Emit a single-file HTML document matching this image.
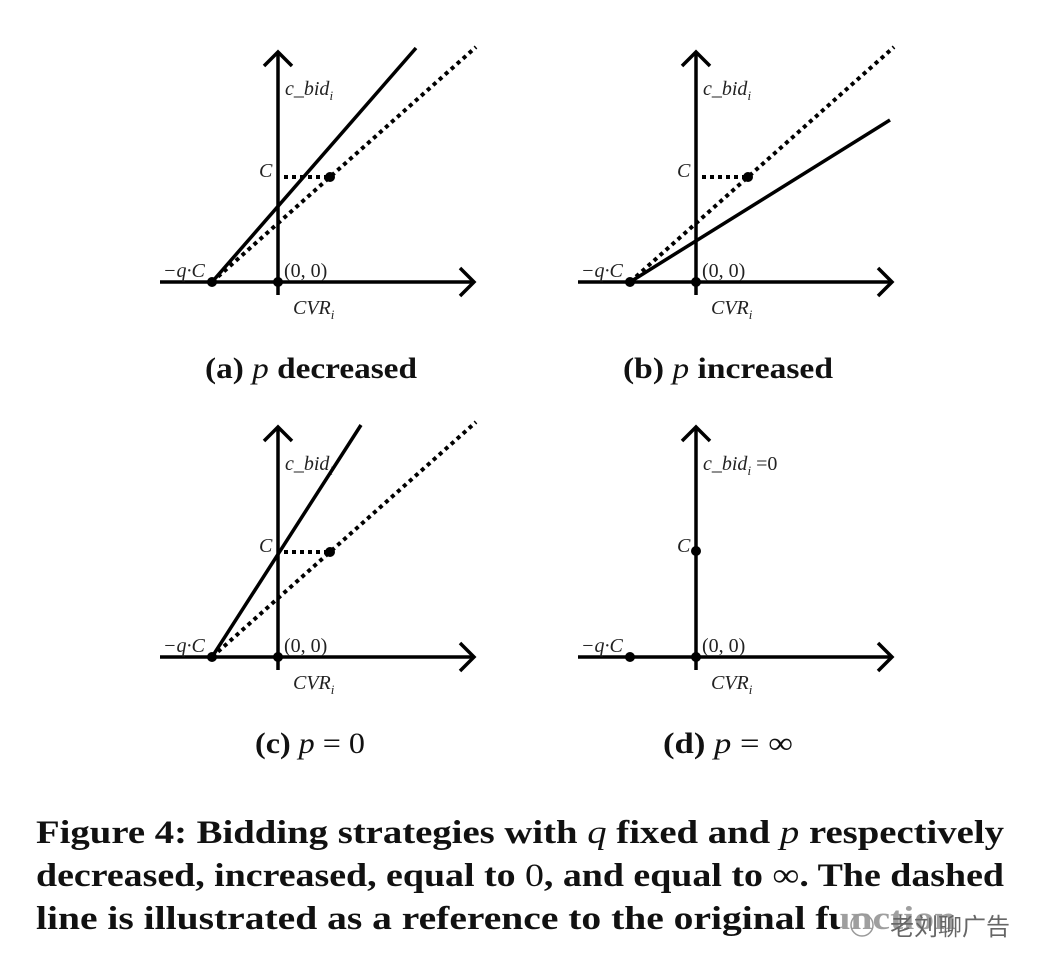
<!DOCTYPE html>
<html><head><meta charset="utf-8"><style>
body{margin:0;background:#fff;}
svg{display:block}
.l{font-family:"Liberation Serif",serif;font-style:italic;font-size:20px;fill:#222}
.n{font-family:"Liberation Serif",serif;font-size:20px;fill:#222}
.cap{font-family:"Liberation Serif",serif;font-weight:bold;font-size:30px;fill:#111}
.fig{font-family:"Liberation Serif",serif;font-weight:bold;font-size:33px;fill:#111}
</style></head><body>
<svg width="1038" height="970" xmlns="http://www.w3.org/2000/svg">
<defs>
<g id="axes" stroke="#000" stroke-width="3.5" fill="none">
<line x1="160" y1="282" x2="474" y2="282"/>
<polyline points="460,268 474,282 460,296"/>
<line x1="278" y1="295" x2="278" y2="52"/>
<polyline points="264,66 278,52 292,66"/>
</g>
<g id="lbl">
<text class="l" x="163" y="277">−q·C</text>
<text class="n" x="284" y="277">(0, 0)</text>
<text class="l" x="293" y="314">CVR<tspan font-size="13" dy="5">i</tspan></text>
<circle cx="212" cy="282" r="5"/><circle cx="278" cy="282" r="5"/>
</g>
</defs>
<!-- a -->
<use href="#axes"/><use href="#lbl"/>
<text class="l" x="285" y="95">c_bid<tspan font-size="13" dy="5">i</tspan></text>
<text class="l" x="259" y="177">C</text>
<line x1="212" y1="282" x2="416" y2="48" stroke="#000" stroke-width="3.5"/>
<line x1="212" y1="282" x2="476" y2="47" stroke="#000" stroke-width="4" stroke-dasharray="4,4"/>
<line x1="284" y1="177" x2="330" y2="177" stroke="#000" stroke-width="4" stroke-dasharray="4,4"/>
<circle cx="330" cy="177" r="5"/>
<!-- b -->
<g transform="translate(418,0)">
<use href="#axes"/><use href="#lbl"/>
<text class="l" x="285" y="95">c_bid<tspan font-size="13" dy="5">i</tspan></text>
<text class="l" x="259" y="177">C</text>
<line x1="212" y1="282" x2="472" y2="120" stroke="#000" stroke-width="3.5"/>
<line x1="212" y1="282" x2="476" y2="47" stroke="#000" stroke-width="4" stroke-dasharray="4,4"/>
<line x1="284" y1="177" x2="330" y2="177" stroke="#000" stroke-width="4" stroke-dasharray="4,4"/>
<circle cx="330" cy="177" r="5"/>
</g>
<!-- c -->
<g transform="translate(0,375)">
<use href="#axes"/><use href="#lbl"/>
<text class="l" x="285" y="95">c_bid<tspan font-size="13" dy="5">i</tspan></text>
<text class="l" x="259" y="177">C</text>
<line x1="212" y1="282" x2="361" y2="50" stroke="#000" stroke-width="3.5"/>
<line x1="212" y1="282" x2="476" y2="47" stroke="#000" stroke-width="4" stroke-dasharray="4,4"/>
<line x1="284" y1="177" x2="330" y2="177" stroke="#000" stroke-width="4" stroke-dasharray="4,4"/>
<circle cx="330" cy="177" r="5"/>
</g>
<!-- d -->
<g transform="translate(418,375)">
<use href="#axes"/><use href="#lbl"/>
<text class="l" x="285" y="95">c_bid<tspan font-size="13" dy="5">i</tspan> <tspan dy="-5" font-style="normal">=0</tspan></text>
<text class="l" x="259" y="177">C</text>
<circle cx="278" cy="176" r="5"/>
</g>
<text class="cap" x="205" y="378" textLength="212" lengthAdjust="spacingAndGlyphs">(a) <tspan font-style="italic" font-weight="normal">p</tspan> decreased</text>
<text class="cap" x="623" y="378" textLength="210" lengthAdjust="spacingAndGlyphs">(b) <tspan font-style="italic" font-weight="normal">p</tspan> increased</text>
<text class="cap" x="255" y="753" textLength="110" lengthAdjust="spacingAndGlyphs">(c) <tspan font-style="italic" font-weight="normal">p</tspan> <tspan font-weight="normal">= 0</tspan></text>
<text class="cap" x="663" y="753" textLength="130" lengthAdjust="spacingAndGlyphs">(d) <tspan font-style="italic" font-weight="normal">p</tspan> <tspan font-weight="normal">= ∞</tspan></text>
<text class="fig" x="36" y="843" textLength="968" lengthAdjust="spacingAndGlyphs">Figure 4: Bidding strategies with <tspan font-style="italic" font-weight="normal">q</tspan> fixed and <tspan font-style="italic" font-weight="normal">p</tspan> respectively</text>
<text class="fig" x="36" y="886" textLength="968" lengthAdjust="spacingAndGlyphs">decreased, increased, equal to <tspan font-weight="normal">0</tspan>, and equal to <tspan font-weight="normal">∞</tspan>. The dashed</text>
<text class="fig" x="36" y="929" textLength="920" lengthAdjust="spacingAndGlyphs">line is illustrated as a reference to the original function</text>
<rect x="840" y="905" width="170" height="40" fill="#fff" opacity="0.6"/>
<text x="890" y="935" font-family="'Noto Sans CJK SC',sans-serif" font-size="24" fill="#666">老刘聊广告</text>
<circle cx="862" cy="925" r="11" fill="none" stroke="#999" stroke-width="1.5"/>
</svg>
</body></html>
